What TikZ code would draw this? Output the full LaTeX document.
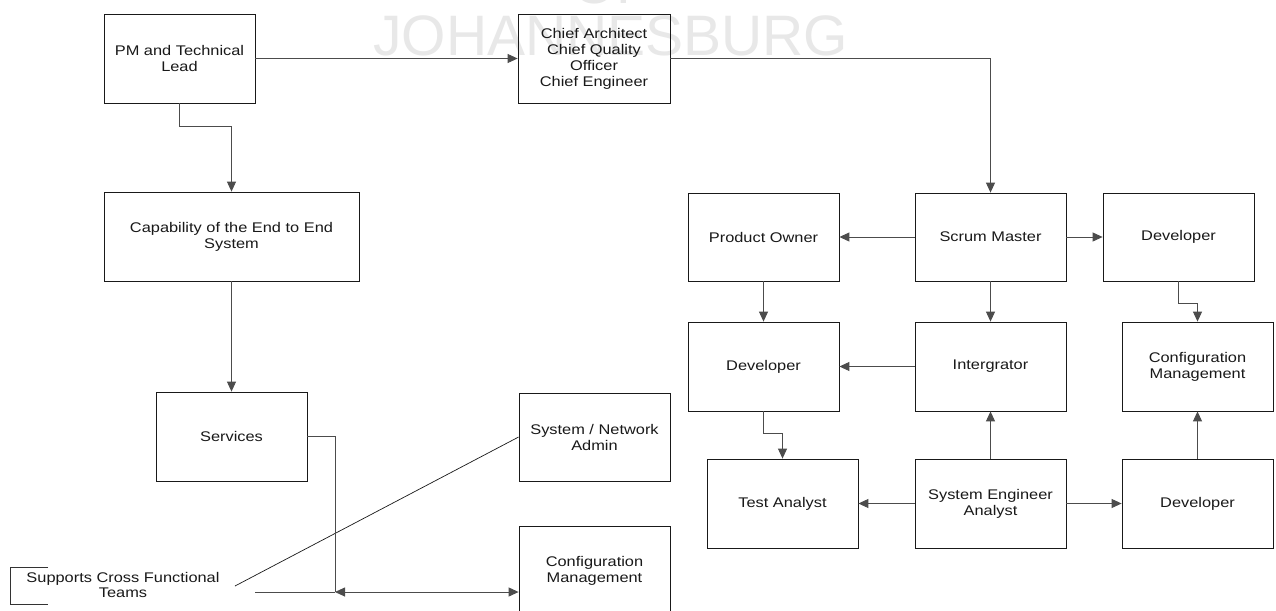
\documentclass[tikz,border=0pt]{standalone}
\usepackage{fontspec}
\setmainfont{Liberation Sans}[FakeStretch=1.17]
\newfontfamily\wmfont{Liberation Sans}
\usetikzlibrary{arrows.meta,calc}
\begin{document}
\begin{tikzpicture}[x=1pt,y=-1pt,
  box/.style={draw=black!90, line width=0.8pt, minimum width=151, minimum height=89,
    align=center, inner sep=2pt, font=\fontsize{14}{16}\selectfont, text=black!90},
  conn/.style={draw=black!70, line width=0.9pt},
  arr/.style={conn, -{Triangle[length=10pt,width=9pt]}},
  darr/.style={conn, {Triangle[length=10pt,width=9pt]}-{Triangle[length=10pt,width=9pt]}},
  wm/.style={text=black!9, font=\wmfont\fontsize{57}{60}\selectfont, inner sep=0pt}
]
\useasboundingbox (0,0) rectangle (1276,610);
\fill[white] (0,0) rectangle (1276,610);
\clip (0,0) rectangle (1276,610);

% watermark
\node[wm, anchor=base] (wmof) at (612,4) {OF};
\node[wm, anchor=base west] (wmjo) at (373,56) {JOHANNESBURG};

% left branch
\node[box] (pm) at (179.5,58.5) {PM and Technical\\Lead};
\node[box, minimum width=152] (chief) at (594,58.5) {Chief Architect\\Chief Quality\\Officer\\Chief Engineer};
\node[box, minimum width=255] (cap) at (231.5,236.5) {Capability of the End to End\\System};
\node[box] (serv) at (231.5,436.5) {Services};
\node[box, minimum height=88] (sna) at (594.5,437) {System / Network\\Admin};
\node[box] (cm1) at (594.5,570.5) {Configuration\\Management};
\node[align=center, inner sep=0pt, font=\fontsize{14}{14.5}\selectfont, text=black!90] (sup) at (123,585) {Supports Cross Functional\\Teams};

% right grid
\node[box, minimum height=88] (po) at (763.5,237) {Product Owner};
\node[box, minimum height=88] (sm) at (990.5,237) {Scrum Master};
\node[box, minimum height=88] (dev1) at (1178.5,237) {Developer};
\node[box] (dev2) at (763.5,366.5) {Developer};
\node[box] (int) at (990.5,366.5) {Intergrator};
\node[box] (cm2) at (1197.5,366.5) {Configuration\\Management};
\node[box] (ta) at (782.5,503.5) {Test Analyst};
\node[box] (sea) at (990.5,503.5) {System Engineer\\Analyst};
\node[box] (dev3) at (1197.5,503.5) {Developer};

% annotation bracket
\coordinate (b1) at (48,567);
\coordinate (b2) at (10,567);
\coordinate (b3) at (10,604);
\coordinate (b4) at (48,604);
\draw[draw=black!80, line width=0.8pt] (b1) -- (b2) -- (b3) -- (b4);
\coordinate (dstart) at (235,586);
\draw[draw=black!90, line width=0.7pt] (dstart) -- (sna.west);

% connectors
\draw[arr] (pm.east) -- (chief.west);
\draw[arr] (chief.east) -| (sm.north);
\draw[arr] (pm.south) -- ++(0,23) -| (cap.north);
\draw[arr] (cap.south) -- (serv.north);

\coordinate (J) at (335,592);
\coordinate (S) at (255,592);
\draw[conn] (serv.east) -| (J);
\draw[conn] (S) -- (J);
\draw[darr] (J) -- (cm1.west |- J);

\draw[arr] (sm.west) -- (po.east);
\draw[arr] (sm.east) -- (dev1.west);
\draw[arr] (po.south) -- (dev2.north);
\draw[arr] (sm.south) -- (int.north);
\draw[arr] (dev1.south) -- ++(0,22) -| (cm2.north);
\draw[arr] (int.west) -- (dev2.east);
\draw[arr] (dev2.south) -- ++(0,22) -| (ta.north);
\draw[arr] (sea.north) -- (int.south);
\draw[arr] (dev3.north) -- (cm2.south);
\draw[arr] (sea.west) -- (ta.east);
\draw[arr] (sea.east) -- (dev3.west);
\end{tikzpicture}
\end{document}
